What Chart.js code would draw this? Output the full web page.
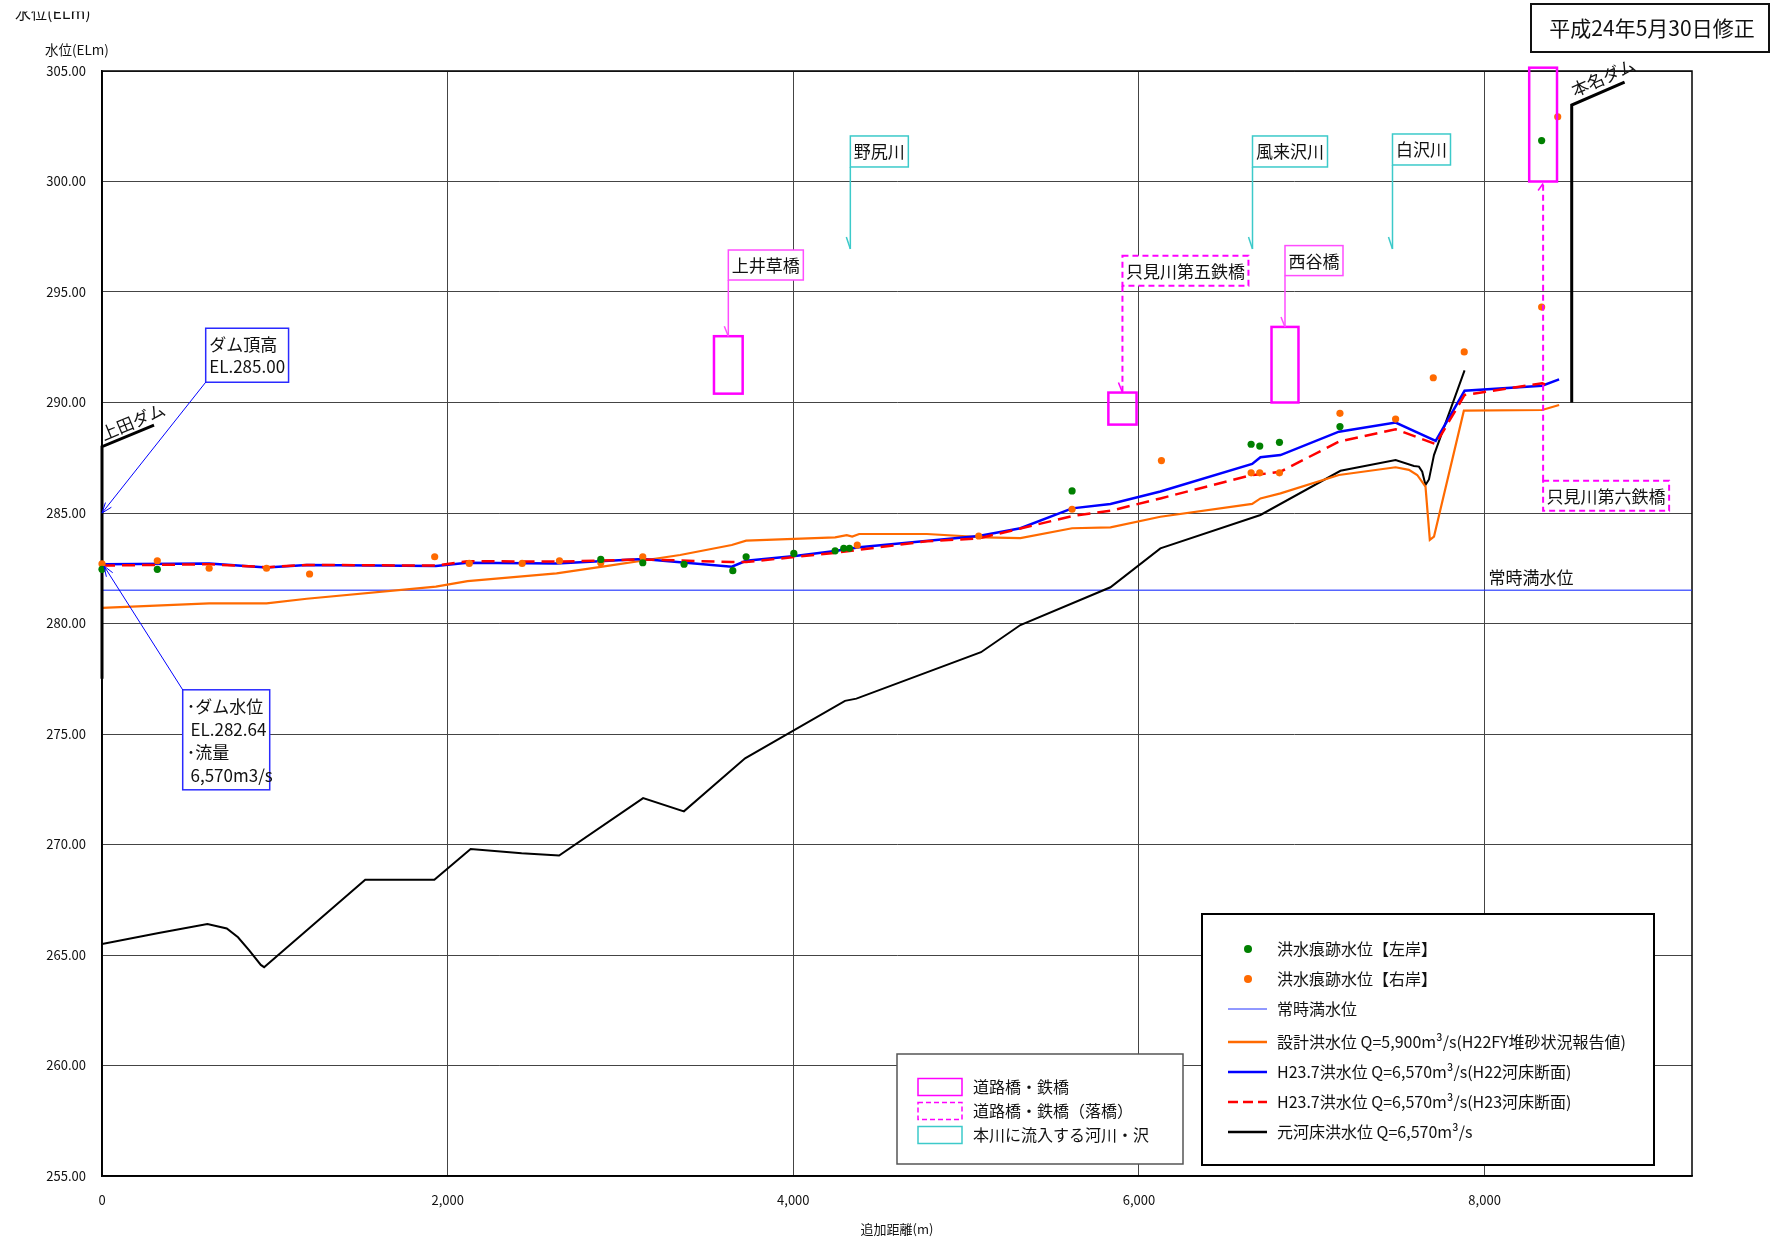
<!DOCTYPE html>
<html lang="ja">
<head>
<meta charset="utf-8">
<title>水位縦断図</title>
<script src="https://cdn.jsdelivr.net/npm/chart.js@4.4.1/dist/chart.umd.min.js"></script>
<style>
  html, body { margin: 0; padding: 0; background: #fff; }
</style>
</head>
<body>
<canvas id="profileChart" width="1778" height="1238"></canvas>
<script>
// 元河床洪水位 Q=6,570m3/s
const bedDist  = [0, 328, 610, 722, 787, 853, 919, 938, 1523, 1923, 2133, 2428, 2645, 3131, 3367, 3721, 4299, 4365, 5086, 5314, 5835, 6124, 6703, 7166, 7485, 7591, 7620, 7639, 7658, 7678, 7707, 7884];
const bedLevel = [265.5, 266.0, 266.4, 266.2, 265.8, 265.2, 264.55, 264.45, 268.4, 268.4, 269.8, 269.6, 269.5, 272.1, 271.5, 273.9, 276.5, 276.6, 278.7, 279.93, 281.64, 283.4, 284.91, 286.91, 287.4, 287.13, 287.1, 286.87, 286.27, 286.52, 287.62, 291.45];

// 設計洪水位 Q=5,900m3/s
const designDist  = [0, 620, 952, 1185, 1932, 2115, 2630, 2896, 3345, 3644, 3727, 4242, 4309, 4341, 4381, 4773, 5105, 5314, 5613, 5835, 6124, 6655, 6703, 6819, 7157, 7485, 7562, 7610, 7658, 7683, 7707, 7880, 8333, 8431];
const designLevel = [280.71, 280.91, 280.91, 281.12, 281.67, 281.92, 282.27, 282.57, 283.1, 283.55, 283.75, 283.9, 284.0, 283.93, 284.05, 284.05, 283.9, 283.86, 284.31, 284.35, 284.83, 285.41, 285.66, 285.89, 286.72, 287.07, 286.95, 286.72, 286.19, 283.78, 283.93, 289.63, 289.66, 289.89];

// H23.7洪水位 (H22河床断面)
const h22Dist  = [0, 620, 952, 1185, 1932, 2115, 2630, 3129, 3644, 3727, 4009, 4242, 4381, 5073, 5314, 5613, 5835, 6124, 6655, 6703, 6819, 7157, 7485, 7717, 7884, 8333, 8431];
const h22Level = [282.68, 282.72, 282.53, 282.65, 282.6, 282.75, 282.72, 282.92, 282.57, 282.84, 283.05, 283.28, 283.45, 283.96, 284.31, 285.21, 285.41, 285.97, 287.22, 287.52, 287.62, 288.68, 289.09, 288.26, 290.53, 290.76, 291.05];

// H23.7洪水位 (H23河床断面)
const h23Dist  = [0, 620, 952, 1185, 1932, 2115, 2630, 3129, 3644, 3727, 4242, 4773, 5073, 5314, 5613, 5835, 6124, 6655, 6703, 6819, 7157, 7485, 7717, 7884, 8333, 8370];
const h23Level = [282.62, 282.68, 282.55, 282.65, 282.62, 282.82, 282.8, 282.9, 282.78, 282.78, 283.2, 283.72, 283.85, 284.3, 284.86, 285.1, 285.66, 286.72, 286.75, 286.87, 288.23, 288.79, 288.12, 290.34, 290.87, 290.75];

// 常時満水位
const normalDist  = [0, 9200];
const normalLevel = [281.5, 281.5];

// 洪水痕跡水位
const leftDist   = [0, 320, 2886, 3129, 3368, 3650, 3727, 4003, 4242, 4292, 4325, 5613, 6649, 6699, 6813, 7163, 8330];
const leftLevel  = [282.45, 282.45, 282.9, 282.75, 282.68, 282.39, 283.02, 283.17, 283.29, 283.4, 283.4, 286.0, 288.11, 288.03, 288.2, 288.91, 301.85];
const rightDist  = [0, 320, 620, 952, 1201, 1925, 2125, 2431, 2647, 2886, 3129, 4370, 5073, 5613, 6130, 6649, 6699, 6813, 7163, 7485, 7703, 7882, 8330, 8423];
const rightLevel = [282.7, 282.84, 282.5, 282.5, 282.24, 283.02, 282.72, 282.72, 282.84, 282.75, 283.02, 283.55, 283.96, 285.17, 287.37, 286.82, 286.82, 286.82, 289.51, 289.25, 291.12, 292.29, 294.32, 302.93];

// ダム堤体
const uedaDist  = [0, 0, 301];
const uedaLevel = [277.5, 288.0, 288.98];
const honnaDist  = [8504, 8504, 8810];
const honnaLevel = [290.0, 303.46, 304.5];

// 道路橋・鉄橋
const bridgeNames  = ['上井草橋', '只見川第五鉄橋', '西谷橋', '只見川第六鉄橋'];
const bridgeFrom   = [3541, 5823, 6767, 8258];
const bridgeTo     = [3707, 5986, 6923, 8419];
const bridgeLow    = [290.4, 289.0, 290.0, 300.0];
const bridgeHigh   = [293.0, 290.45, 293.42, 305.15];
const bridgeFallen = [false, true, false, true];

// 本川に流入する河川・沢
const riverNames = ['野尻川', '風来沢川', '白沢川'];
const riverDist  = [4330, 6657, 7467];

// 軸目盛
const distTicks = [0, 2000, 4000, 6000, 8000];

// 吹き出しの配置 (標高で指定)
const bridgeLabelTop = [296.9, 296.64, 297.1, 286.46];
const riverLabelTop  = [302.06, 302.06, 302.15];
const riverArrowEnd  = 296.95;

const FONT = "'Noto Sans CJK JP', 'Noto Sans', sans-serif";
const MAGENTA = '#ff00ff';
const CYAN = '#3ccaca';

function toPairs(xs, ys) {
    return xs.map((x, i) => ({ x: x, y: ys[i] }));
}

function textBox(ctx, lines, left, top, o) {
    ctx.font = o.size + 'px ' + FONT;
    const w = o.width || Math.max(...lines.map(t => ctx.measureText(t).width)) + o.padX * 2;
    ctx.fillStyle = '#fff';
    ctx.fillRect(left, top, w, o.height);
    ctx.setLineDash(o.dash || []);
    ctx.strokeStyle = o.color;
    ctx.lineWidth = o.lineWidth;
    ctx.strokeRect(left, top, w, o.height);
    ctx.setLineDash([]);
    ctx.fillStyle = '#111';
    ctx.textAlign = 'left';
    ctx.textBaseline = 'middle';
    lines.forEach((t, i) => ctx.fillText(t, left + o.padX, top + o.firstLine + i * o.lineGap));
    return { left: left, top: top, w: w, h: o.height };
}

function line(ctx, x1, y1, x2, y2, color, width, dash) {
    ctx.save();
    ctx.strokeStyle = color;
    ctx.lineWidth = width;
    ctx.setLineDash(dash || []);
    ctx.beginPath();
    ctx.moveTo(x1, y1);
    ctx.lineTo(x2, y2);
    ctx.stroke();
    ctx.restore();
}

function arrowHead(ctx, fx, fy, tx, ty, color) {
    const a = Math.atan2(ty - fy, tx - fx);
    const len = 11;
    ctx.save();
    ctx.strokeStyle = color;
    ctx.lineWidth = 1;
    ctx.beginPath();
    ctx.moveTo(tx - len * Math.cos(a - 0.35), ty - len * Math.sin(a - 0.35));
    ctx.lineTo(tx, ty);
    ctx.lineTo(tx - len * Math.cos(a + 0.35), ty - len * Math.sin(a + 0.35));
    ctx.stroke();
    ctx.restore();
}

function rotatedText(ctx, text, x, y, angle, size) {
    ctx.save();
    ctx.translate(x, y);
    ctx.rotate(angle);
    ctx.font = size + 'px ' + FONT;
    ctx.fillStyle = '#111';
    ctx.textAlign = 'left';
    ctx.textBaseline = 'alphabetic';
    ctx.fillText(text, 0, 0);
    ctx.restore();
}

// 枠・吹き出し・凡例
const profileDecor = {
    id: 'profileDecor',
    beforeDatasetsDraw(chart) {
        const { ctx, chartArea: a } = chart;
        ctx.save();
        ctx.strokeStyle = '#000';
        ctx.lineWidth = 1.5;
        ctx.strokeRect(a.left, a.top, a.right - a.left, a.bottom - a.top);
        ctx.restore();
    },
    afterDatasetsDraw(chart) {
        const ctx = chart.ctx;
        const sx = chart.scales.x, sy = chart.scales.y;
        const px = v => sx.getPixelForValue(v);
        const py = v => sy.getPixelForValue(v);
        ctx.save();

        // 常時満水位 ラベル
        ctx.font = '17px ' + FONT;
        ctx.fillStyle = '#111';
        ctx.textAlign = 'left';
        ctx.textBaseline = 'middle';
        ctx.fillText('常時満水位', px(8023), py(normalLevel[0]) - 13);

        // ダム名
        const uAng = Math.atan2(py(uedaLevel[2]) - py(uedaLevel[1]), px(uedaDist[2]) - px(uedaDist[1]));
        rotatedText(ctx, '上田ダム', px(uedaDist[1]) + 2, py(uedaLevel[1]) - 6, uAng, 17);
        const hAng = Math.atan2(py(honnaLevel[2]) - py(honnaLevel[1]), px(honnaDist[2]) - px(honnaDist[1]));
        rotatedText(ctx, '本名ダム', px(honnaDist[1]) + 3, py(honnaLevel[1]) - 8, hAng, 17);

        // 流入河川
        riverNames.forEach((name, i) => {
            const x = px(riverDist[i]);
            const b = textBox(ctx, [name], x, py(riverLabelTop[i]), { size: 17, padX: 3.5, height: 31, firstLine: 16, lineGap: 0, color: CYAN, lineWidth: 1.5 });
            const yEnd = py(riverArrowEnd);
            line(ctx, x, b.top + b.h, x, yEnd, CYAN, 1.5);
            line(ctx, x - 4, yEnd - 12, x, yEnd, CYAN, 1.5);
        });

        // 道路橋・鉄橋
        bridgeNames.forEach((name, i) => {
            const x0 = px(bridgeFrom[i]), x1 = px(bridgeTo[i]);
            const yTop = py(bridgeHigh[i]), yBot = py(bridgeLow[i]);
            ctx.strokeStyle = MAGENTA;
            ctx.lineWidth = 2.5;
            ctx.setLineDash([]);
            ctx.strokeRect(x0, yTop, x1 - x0, yBot - yTop);
            const cx = (x0 + x1) / 2;
            const dash = bridgeFallen[i] ? [6, 4] : [];
            const col = bridgeFallen[i] ? MAGENTA : '#ff4dff';
            const b = textBox(ctx, [name], cx, py(bridgeLabelTop[i]), { size: 17, padX: 3.5, height: 30, firstLine: 15.5, lineGap: 0, color: col, lineWidth: bridgeFallen[i] ? 2 : 1.5, dash: dash });
            if (b.top > yBot) {
                line(ctx, cx, b.top, cx, yBot + 2, col, 2, dash);
                line(ctx, cx - 5, yBot + 9, cx, yBot + 2, col, 1.5);
            } else {
                line(ctx, cx, b.top + b.h, cx, yTop, col, bridgeFallen[i] ? 2 : 1.5, dash);
                line(ctx, cx - 4, yTop - 10, cx, yTop, col, 1.5);
            }
        });

        // ダム頂高
        const BLUE = '#2a2aff';
        const crest = textBox(ctx, ['ダム頂高', 'EL.285.00'], px(600), py(293.36), { size: 17, padX: 3.5, height: 54, firstLine: 16.5, lineGap: 22, color: BLUE, lineWidth: 1.5 });
        line(ctx, crest.left, crest.top + crest.h, px(0), py(285.0), '#0000ff', 1);
        arrowHead(ctx, crest.left, crest.top + crest.h, px(0), py(285.0), '#0000ff');

        // ダム水位
        const lvl = textBox(ctx, ['･ダム水位', ' EL.282.64', '･流量', ' 6,570m3/s'], px(467), py(277.0), { size: 17, padX: 4, width: 87, height: 100, firstLine: 17, lineGap: 23, color: BLUE, lineWidth: 1.5 });
        line(ctx, lvl.left, lvl.top, px(0) + 2, py(282.6), '#0000ff', 1);
        arrowHead(ctx, lvl.left, lvl.top, px(0) + 2, py(282.6), '#0000ff');

        // 凡例 (河川構造物)
        ctx.fillStyle = '#fff';
        ctx.fillRect(897, 1054, 286, 110);
        ctx.strokeStyle = '#555';
        ctx.lineWidth = 1.5;
        ctx.strokeRect(897, 1054, 286, 110);
        const legB = [
            { text: '道路橋・鉄橋', color: MAGENTA, dash: [] },
            { text: '道路橋・鉄橋（落橋）', color: MAGENTA, dash: [5, 3] },
            { text: '本川に流入する河川・沢', color: CYAN, dash: [] }
        ];
        legB.forEach((e, i) => {
            const cy = 1087 + i * 24;
            ctx.strokeStyle = e.color;
            ctx.lineWidth = 1.5;
            ctx.setLineDash(e.dash);
            ctx.strokeRect(918, cy - 8.5, 44, 17);
            ctx.setLineDash([]);
            ctx.font = '16px ' + FONT;
            ctx.fillStyle = '#111';
            ctx.textAlign = 'left';
            ctx.textBaseline = 'middle';
            ctx.fillText(e.text, 973, cy);
        });

        // 凡例 (水位)
        ctx.fillStyle = '#fff';
        ctx.fillRect(1202, 914, 452, 251);
        ctx.strokeStyle = '#000';
        ctx.lineWidth = 2;
        ctx.strokeRect(1202, 914, 452, 251);
        const legA = [
            { y: 949, text: '洪水痕跡水位【左岸】', dot: '#008000' },
            { y: 979, text: '洪水痕跡水位【右岸】', dot: '#ff6a00' },
            { y: 1009, text: '常時満水位', color: '#2233ff', width: 1 },
            { y: 1042, text: '設計洪水位 Q=5,900m³/s(H22FY堆砂状況報告値)', color: '#ff6a00', width: 2.5 },
            { y: 1072, text: 'H23.7洪水位 Q=6,570m³/s(H22河床断面)', color: '#0000ff', width: 2.5 },
            { y: 1102, text: 'H23.7洪水位 Q=6,570m³/s(H23河床断面)', color: '#ff0000', width: 2.5, dash: [10, 5] },
            { y: 1132, text: '元河床洪水位 Q=6,570m³/s', color: '#000', width: 2.5 }
        ];
        legA.forEach(e => {
            if (e.dot) {
                ctx.fillStyle = e.dot;
                ctx.beginPath();
                ctx.arc(1248, e.y, 4, 0, Math.PI * 2);
                ctx.fill();
            } else {
                line(ctx, 1228, e.y, 1267, e.y, e.color, e.width, e.dash);
            }
            ctx.font = '16px ' + FONT;
            ctx.fillStyle = '#111';
            ctx.textAlign = 'left';
            ctx.textBaseline = 'middle';
            ctx.fillText(e.text, 1277, e.y);
        });

        ctx.restore();
    },
    afterDraw(chart) {
        const ctx = chart.ctx;
        ctx.save();
        // 作成日
        ctx.strokeStyle = '#111';
        ctx.lineWidth = 2;
        ctx.strokeRect(1531, 4, 238, 48);
        ctx.font = '21px ' + FONT;
        ctx.fillStyle = '#111';
        ctx.textAlign = 'center';
        ctx.textBaseline = 'middle';
        ctx.fillText('平成24年5月30日修正', 1652, 28);

        // 縦軸タイトル
        ctx.textAlign = 'left';
        ctx.font = '13.5px ' + FONT;
        ctx.fillText('水位(ELm)', 45, 50);
        ctx.beginPath();
        ctx.rect(0, 11.5, 200, 20);
        ctx.clip();
        ctx.font = '16px ' + FONT;
        ctx.textBaseline = 'alphabetic';
        ctx.fillText('水位(ELm)', 15, 19);
        ctx.restore();
    }
};

Chart.defaults.font.family = FONT;
Chart.defaults.color = '#111';

const lineSet = (label, xs, ys, color, width, dash) => ({
    label: label,
    data: toPairs(xs, ys),
    borderColor: color,
    backgroundColor: color,
    borderWidth: width,
    borderDash: dash || [],
    pointRadius: 0,
    fill: false,
    tension: 0
});

const pointSet = (label, xs, ys, color) => ({
    label: label,
    data: toPairs(xs, ys),
    showLine: false,
    pointRadius: 3.6,
    pointBorderWidth: 0,
    pointBackgroundColor: color,
    borderColor: color,
    clip: false
});

const damSet = (label, xs, ys) => Object.assign(lineSet(label, xs, ys, '#000', 3), { clip: false, borderJoinStyle: 'miter' });

const ctx = document.getElementById('profileChart').getContext('2d');
const profileChart = new Chart(ctx, {
    type: 'line',
    data: {
        datasets: [
            pointSet('洪水痕跡水位【左岸】', leftDist, leftLevel, '#008000'),
            pointSet('洪水痕跡水位【右岸】', rightDist, rightLevel, '#ff6a00'),
            damSet('上田ダム', uedaDist, uedaLevel),
            damSet('本名ダム', honnaDist, honnaLevel),
            lineSet('H23.7洪水位 Q=6,570m3/s(H23河床断面)', h23Dist, h23Level, '#ff0000', 2.5, [13, 7]),
            lineSet('H23.7洪水位 Q=6,570m3/s(H22河床断面)', h22Dist, h22Level, '#0000ff', 2.5),
            lineSet('設計洪水位 Q=5,900m3/s(H22FY堆砂状況報告値)', designDist, designLevel, '#ff6a00', 2.2),
            lineSet('元河床洪水位 Q=6,570m3/s', bedDist, bedLevel, '#000', 2),
            lineSet('常時満水位', normalDist, normalLevel, 'rgba(30,50,255,0.75)', 1.5)
        ]
    },
    options: {
        responsive: false,
        animation: false,
        devicePixelRatio: 1,
        layout: { padding: { top: 71, right: 86, left: 0, bottom: 0 } },
        plugins: {
            legend: { display: false },
            tooltip: { enabled: false }
        },
        scales: {
            x: {
                type: 'linear',
                min: 0,
                max: 9200,
                afterFit: s => { s.height = 62; },
                afterBuildTicks: s => { s.ticks = distTicks.map(v => ({ value: v })); },
                ticks: {
                    padding: 16,
                    maxRotation: 0,
                    font: { size: 13 },
                    callback: v => v.toLocaleString('en-US')
                },
                grid: { color: '#444', lineWidth: 1, drawTicks: false },
                border: { color: '#000', width: 1.5 },
                title: {
                    display: true,
                    text: '追加距離(m)',
                    font: { size: 13 },
                    padding: { top: 0, bottom: 1 }
                }
            },
            y: {
                type: 'linear',
                min: 255,
                max: 305,
                afterFit: s => { s.width = 102; },
                ticks: {
                    stepSize: 5,
                    padding: 16,
                    font: { size: 13 },
                    callback: v => v.toFixed(2)
                },
                grid: { color: '#444', lineWidth: 1, drawTicks: false },
                border: { color: '#000', width: 1.5 }
            }
        }
    },
    plugins: [profileDecor]
});
</script>
</body>
</html>
